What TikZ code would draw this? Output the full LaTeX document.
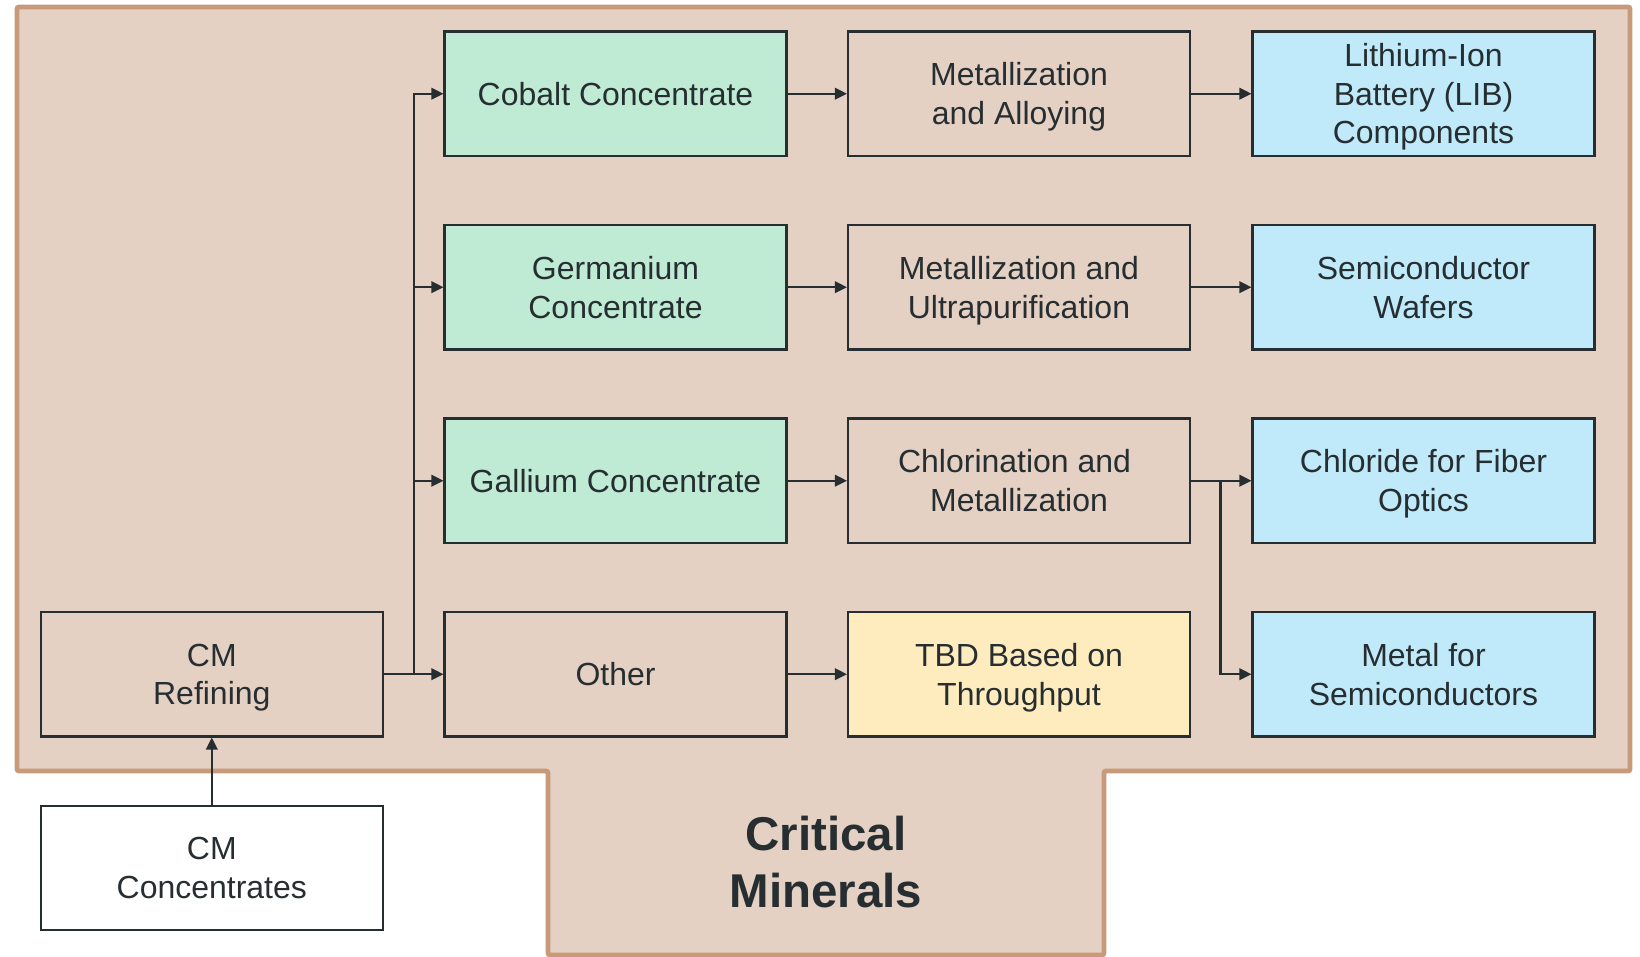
\documentclass[tikz,border=0pt]{standalone}
\usepackage{fontspec}
\setmainfont{Liberation Sans}
\usetikzlibrary{arrows.meta}
\definecolor{panelfill}{RGB}{228,209,195}
\definecolor{paneledge}{RGB}{200,154,121}
\definecolor{inkc}{RGB}{38,46,49}
\definecolor{greenfill}{RGB}{191,235,213}
\definecolor{bluefill}{RGB}{192,234,249}
\definecolor{yellowfill}{RGB}{255,236,190}
\begin{document}
\begin{tikzpicture}[x=0.1mm,y=-0.1mm,
  box/.style={draw=inkc, line width=0.6pt, minimum width=34.2mm, minimum height=12.45mm,
    align=center, text=inkc, inner sep=0pt, text depth=0pt, font=\fontsize{9.1}{11}\selectfont},
  flow/.style={draw=inkc, line width=0.6pt, -{Triangle[length=1.2mm,width=1.15mm]}},
  joint/.style={draw=inkc, line width=0.6pt}]
\useasboundingbox (0,0) rectangle (1640,957);
% outer panel with the lower tab
\draw[fill=panelfill, draw=paneledge, line width=1.4pt, rounded corners=0.6pt]
  (17,7) -- (1630,7) -- (1630,771) -- (1104,771) -- (1104,955) -- (548,955)
  -- (548,771) -- (17,771) -- cycle;
\node[font=\fontsize{13.5}{16.1}\selectfont\bfseries, text=inkc, align=center]
  (title) at (826,862) {Critical\\Minerals};
% column 1
\node[box, fill=greenfill] (cobalt) at (615.5,93.7) {Cobalt Concentrate};
\node[box, fill=greenfill] (germ) at (615.5,287.2) {Germanium\\Concentrate};
\node[box, fill=greenfill] (gall) at (615.5,480.7) {Gallium Concentrate};
\node[box] (other) at (615.5,674.2) {Other};
% column 2
\node[box] (metall) at (1019,93.7) {Metallization\\and Alloying};
\node[box] (ultra) at (1019,287.2) {Metallization and\\Ultrapurification};
\node[box] (chlor) at (1019,480.7) {Chlorination and\hspace*{0.278em}\\Metallization};
\node[box, fill=yellowfill] (tbd) at (1019,674.2) {TBD Based on\\Throughput};
% column 3
\node[box, fill=bluefill] (lib) at (1423.5,93.7) {Lithium-Ion\\Battery (LIB)\\Components};
\node[box, fill=bluefill] (wafer) at (1423.5,287.2) {Semiconductor\\Wafers};
\node[box, fill=bluefill] (chloride) at (1423.5,480.7) {Chloride for Fiber\\Optics};
\node[box, fill=bluefill] (metal) at (1423.5,674.2) {Metal for\\Semiconductors};
% refining and input
\node[box] (refine) at (211.8,674.2) {CM\\Refining};
\node[box, fill=white] (conc) at (211.8,868) {CM\\Concentrates};
% connectors
\coordinate (trunk) at (414,674.2);
\coordinate (split) at (1220.5,480.7);
\draw[flow] (conc.north) -- (refine.south);
\draw[flow] (refine.east) -- (other.west);
\draw[flow] (trunk) |- (cobalt.west);
\draw[flow] (trunk) |- (germ.west);
\draw[flow] (trunk) |- (gall.west);
\draw[flow] (cobalt.east) -- (metall.west);
\draw[flow] (germ.east) -- (ultra.west);
\draw[flow] (gall.east) -- (chlor.west);
\draw[flow] (other.east) -- (tbd.west);
\draw[flow] (metall.east) -- (lib.west);
\draw[flow] (ultra.east) -- (wafer.west);
\draw[flow] (chlor.east) -- (chloride.west);
\draw[flow] (split) |- (metal.west);
\end{tikzpicture}
\end{document}
